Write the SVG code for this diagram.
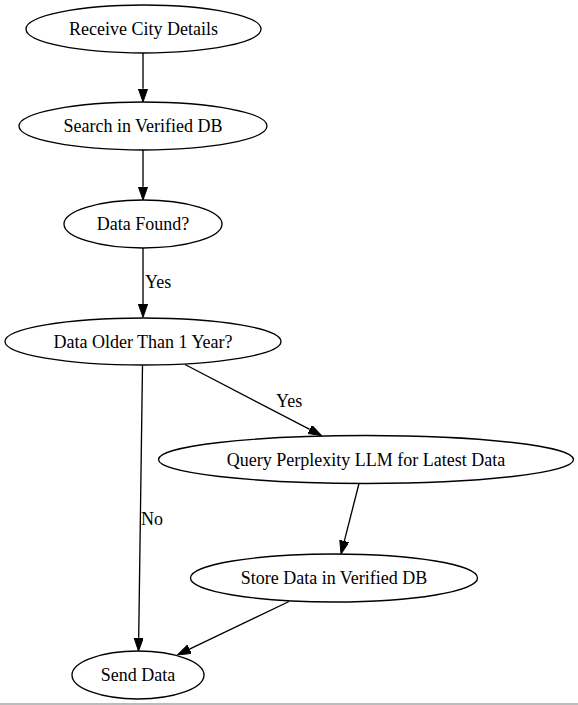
<svg xmlns="http://www.w3.org/2000/svg" width="578" height="705" viewBox="0 0 578 705">
<style>
.n ellipse{fill:#fff;stroke:#000;stroke-width:1.33}
.n text,.lbl{font-family:"Liberation Serif","Times New Roman",serif;font-size:18px;fill:#000}
.n text{text-anchor:middle}
.e{stroke:#000;stroke-width:1.33;fill:none;marker-end:url(#ah)}
</style>
<defs>
<marker id="ah" markerUnits="userSpaceOnUse" markerWidth="14" markerHeight="10" refX="0" refY="4.67" orient="auto">
<path d="M0,0 L13.33,4.67 L0,9.33 z" fill="#000" stroke="#000" stroke-width="1"/>
</marker>
</defs>
<rect width="578" height="705" fill="#fff"/>
<g id="edges">
<path class="e" d="M143,53 L143,88.7"/>
<path class="e" d="M143,150 L143,186.7"/>
<path class="e" d="M143,248 L143,304"/>
<text class="lbl" x="145" y="288">Yes</text>
<path class="e" d="M185,364.5 L309.7,429.4"/>
<text class="lbl" x="276" y="407">Yes</text>
<path class="e" d="M142.5,365.5 L138.7,637.7"/>
<text class="lbl" x="141" y="525">No</text>
<path class="e" d="M359,483.5 L344.3,541.1"/>
<path class="e" d="M289,601.5 L189.5,649.2"/>
</g>
<g id="receive" class="n"><ellipse cx="143.5" cy="29" rx="117.5" ry="24"/><text x="143.5" y="35">Receive City Details</text></g>
<g id="search" class="n"><ellipse cx="143" cy="126" rx="124" ry="24"/><text x="143" y="132">Search in Verified DB</text></g>
<g id="found" class="n"><ellipse cx="143" cy="224" rx="79" ry="24"/><text x="143" y="230">Data Found?</text></g>
<g id="older" class="n"><ellipse cx="143" cy="341.5" rx="138" ry="23.5"/><text x="143" y="347.5">Data Older Than 1 Year?</text></g>
<g id="query" class="n"><ellipse cx="366" cy="459.5" rx="207.5" ry="24"/><text x="366" y="465.5">Query Perplexity LLM for Latest Data</text></g>
<g id="store" class="n"><ellipse cx="334" cy="578" rx="143.5" ry="24"/><text x="334" y="584">Store Data in Verified DB</text></g>
<g id="send" class="n"><ellipse cx="138" cy="675" rx="66" ry="24"/><text x="138" y="681">Send Data</text></g>
<line x1="0" y1="704" x2="578" y2="704" stroke="#a6a6a6" stroke-width="1.5"/>
</svg>
